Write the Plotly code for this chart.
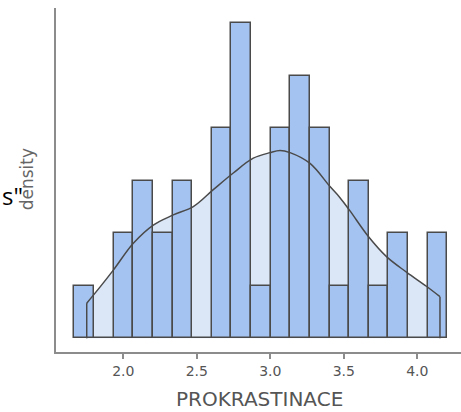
import plotly.graph_objects as go

# ---- data ----
bin_start = 1.667
bin_width = 0.1335
counts = [1, 0, 2, 3, 2, 3, 0, 4, 6, 1, 4, 5, 4, 1, 3, 1, 2, 0, 2]

kde_x = [1.751, 1.841, 1.932, 2.068, 2.204, 2.340, 2.476, 2.612, 2.748, 2.884,
         2.998, 3.066, 3.134, 3.270, 3.406, 3.474, 3.542, 3.667, 3.792, 3.928,
         4.064, 4.154]
kde_y = [0.114, 0.166, 0.221, 0.308, 0.367, 0.400, 0.427, 0.482, 0.536, 0.584,
         0.602, 0.609, 0.602, 0.567, 0.492, 0.456, 0.413, 0.330, 0.264, 0.214,
         0.168, 0.135]

tick_vals = [2.0, 2.5, 3.0, 3.5, 4.0]
tick_text = ["2.0", "2.5", "3.0", "3.5", "4.0"]

x_title = "PROKRASTINACE"
y_title = "density"

n_obs = sum(counts)
centers = [bin_start + bin_width * (i + 0.5) for i in range(len(counts))]
dens = [c / (n_obs * bin_width) for c in counts]

BAR = "#a5c3f0"
KDE_FILL = "#dbe6f7"
EDGE = "#4a4a4a"
FONT = "DejaVu Sans"
X_RANGE = [1.542, 4.297]
Y_RANGE = [-0.0444, 1.071]

fig = go.Figure()

# density fill (main subplot, drawn first -> behind bars)
fig.add_trace(go.Scatter(x=kde_x, y=kde_y, mode="lines",
                         line=dict(shape="spline", width=0, color=KDE_FILL),
                         fill="tozeroy", fillcolor=KDE_FILL,
                         hoverinfo="skip", showlegend=False,
                         xaxis="x", yaxis="y"))

# histogram bars (overlay subplot)
fig.add_trace(go.Bar(x=centers, y=dens, width=bin_width,
                     marker=dict(color=BAR, line=dict(color=EDGE, width=1.5)),
                     showlegend=False, xaxis="x2", yaxis="y2"))

# density outline on top
fig.add_trace(go.Scatter(x=kde_x, y=kde_y, mode="lines",
                         line=dict(shape="spline", width=1.5, color=EDGE),
                         hoverinfo="skip", showlegend=False,
                         xaxis="x2", yaxis="y2"))
fig.add_trace(go.Scatter(x=[kde_x[0], kde_x[0], None, kde_x[-1], kde_x[-1]],
                         y=[0, kde_y[0], None, 0, kde_y[-1]], mode="lines",
                         line=dict(width=1.5, color=EDGE),
                         hoverinfo="skip", showlegend=False,
                         xaxis="x2", yaxis="y2"))

fig.update_layout(
    width=461, height=412,
    margin=dict(l=56, r=0, t=8, b=60),
    plot_bgcolor="white", paper_bgcolor="white",
    bargap=0,
    font=dict(family=FONT, color="#555555"),
    xaxis=dict(range=X_RANGE, tickvals=tick_vals, ticktext=tick_text,
               showline=True, linecolor="#8c8c8c", linewidth=1.5,
               ticks="outside", ticklen=5, tickwidth=1.5, tickcolor="#8c8c8c",
               tickfont=dict(size=14, color="#555555", family=FONT),
               showgrid=False, zeroline=False),
    yaxis=dict(range=Y_RANGE, showline=True, linecolor="#8c8c8c",
               linewidth=1.5, showticklabels=False, ticks="",
               showgrid=False, zeroline=False),
    xaxis2=dict(range=X_RANGE, overlaying="x", visible=False,
                showgrid=False, zeroline=False),
    yaxis2=dict(range=Y_RANGE, overlaying="y", visible=False,
                showgrid=False, zeroline=False),
    annotations=[
        dict(text=x_title, xref="paper", yref="paper", x=0.5037, y=-0.1366,
             xanchor="center", yanchor="middle", showarrow=False,
             font=dict(size=20, color="#555555", family=FONT)),
        dict(text=y_title, xref="paper", yref="paper", x=-0.0716, y=0.502,
             xanchor="center", yanchor="middle", showarrow=False, textangle=-90,
             font=dict(size=17, color="#666666", family=FONT)),
        dict(text='s"', xref="paper", yref="paper", x=-0.138, y=0.456,
             xanchor="left", yanchor="middle", showarrow=False,
             font=dict(size=24, color="black", family="Open Sans")),
    ],
)

fig.write_html("out.html")
